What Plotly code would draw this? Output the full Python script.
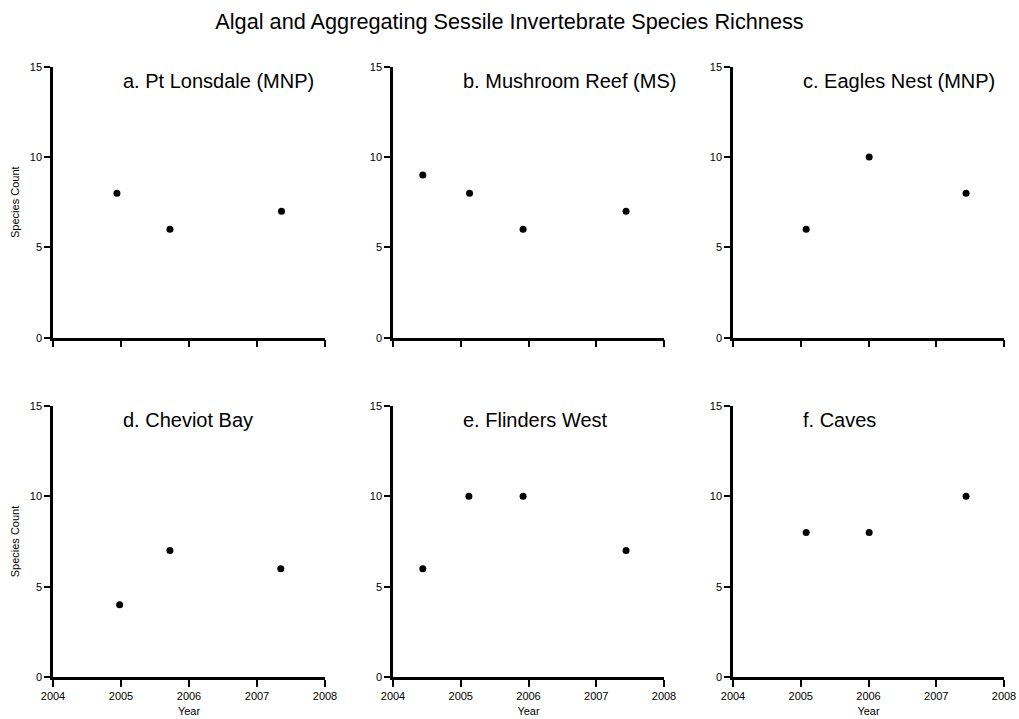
import plotly.graph_objects as go

# ---- data ----
site_titles = ["a. Pt Lonsdale (MNP)", "b. Mushroom Reef (MS)", "c. Eagles Nest (MNP)",
               "d. Cheviot Bay", "e. Flinders West", "f. Caves"]
years_a = [2004.94, 2005.72, 2007.36]
count_a = [8, 6, 7]
years_b = [2004.44, 2005.13, 2005.92, 2007.44]
count_b = [9, 8, 6, 7]
years_c = [2005.08, 2006.01, 2007.44]
count_c = [6, 10, 8]
years_d = [2004.98, 2005.72, 2007.35]
count_d = [4, 7, 6]
years_e = [2004.44, 2005.12, 2005.92, 2007.44]
count_e = [6, 10, 10, 7]
years_f = [2005.08, 2006.01, 2007.44]
count_f = [8, 8, 10]
x_ticks = [2004, 2005, 2006, 2007, 2008]
y_ticks = [0, 5, 10, 15]

series = [(years_a, count_a), (years_b, count_b), (years_c, count_c),
          (years_d, count_d), (years_e, count_e), (years_f, count_f)]

W, H = 1019, 719
col_px = [(53, 325), (393, 664), (733, 1004)]
row_px = [(66.7, 337.7), (405.7, 677.3)]
FONT = "Arial, 'Liberation Sans', sans-serif"

fig = go.Figure()
layout = dict(
    width=W, height=H,
    margin=dict(l=0, r=0, t=0, b=0, autoexpand=False),
    paper_bgcolor="white", plot_bgcolor="white",
    showlegend=False,
    font=dict(family=FONT, color="black"),
    title=dict(text="Algal and Aggregating Sessile Invertebrate Species Richness",
               x=0.5, xanchor="center", y=1 - 21 / H, yanchor="middle",
               font=dict(size=21.7, family=FONT, color="black")),
)
annotations = []
for i, (xs, ys) in enumerate(series):
    r, c = divmod(i, 3)
    n = i + 1
    xa = "xaxis" if n == 1 else f"xaxis{n}"
    ya = "yaxis" if n == 1 else f"yaxis{n}"
    xref = "x" if n == 1 else f"x{n}"
    yref = "y" if n == 1 else f"y{n}"
    fig.add_trace(go.Scatter(x=xs, y=ys, mode="markers", xaxis=xref, yaxis=yref,
                             marker=dict(size=7, color="black"), cliponaxis=False))
    x0, x1 = col_px[c]
    ytop, ybot = row_px[r]
    layout[xa] = dict(
        domain=[x0 / W, x1 / W], anchor=yref, range=[2004, 2008], automargin=False,
        tickvals=x_ticks, ticktext=[str(t) for t in x_ticks],
        showticklabels=(r == 1), ticks="outside", ticklen=7, tickwidth=2,
        tickcolor="black", showline=True, linecolor="black", linewidth=2.5,
        showgrid=False, zeroline=False, tickfont=dict(size=11, family=FONT),
        title=dict(text="Year" if r == 1 else "", font=dict(size=11, family=FONT), standoff=7),
    )
    layout[ya] = dict(
        domain=[1 - ybot / H, 1 - ytop / H], anchor=xref, range=[0, 15], automargin=False,
        tickvals=y_ticks, ticks="outside", ticklen=6, tickwidth=1.5,
        tickcolor="black", showline=True, linecolor="black", linewidth=2.5,
        showgrid=False, zeroline=False, tickfont=dict(size=11, family=FONT),
        title=dict(text="Species Count" if c == 0 else "", font=dict(size=11, family=FONT), standoff=8),
    )
    annotations.append(dict(text=site_titles[i], xref=xref, yref=yref, x=2005, y=14.2,
                            xanchor="left", yanchor="middle", showarrow=False,
                            font=dict(size=20, family=FONT, color="black")))
layout["annotations"] = annotations
fig.update_layout(**layout)
fig.write_html("out.html")
